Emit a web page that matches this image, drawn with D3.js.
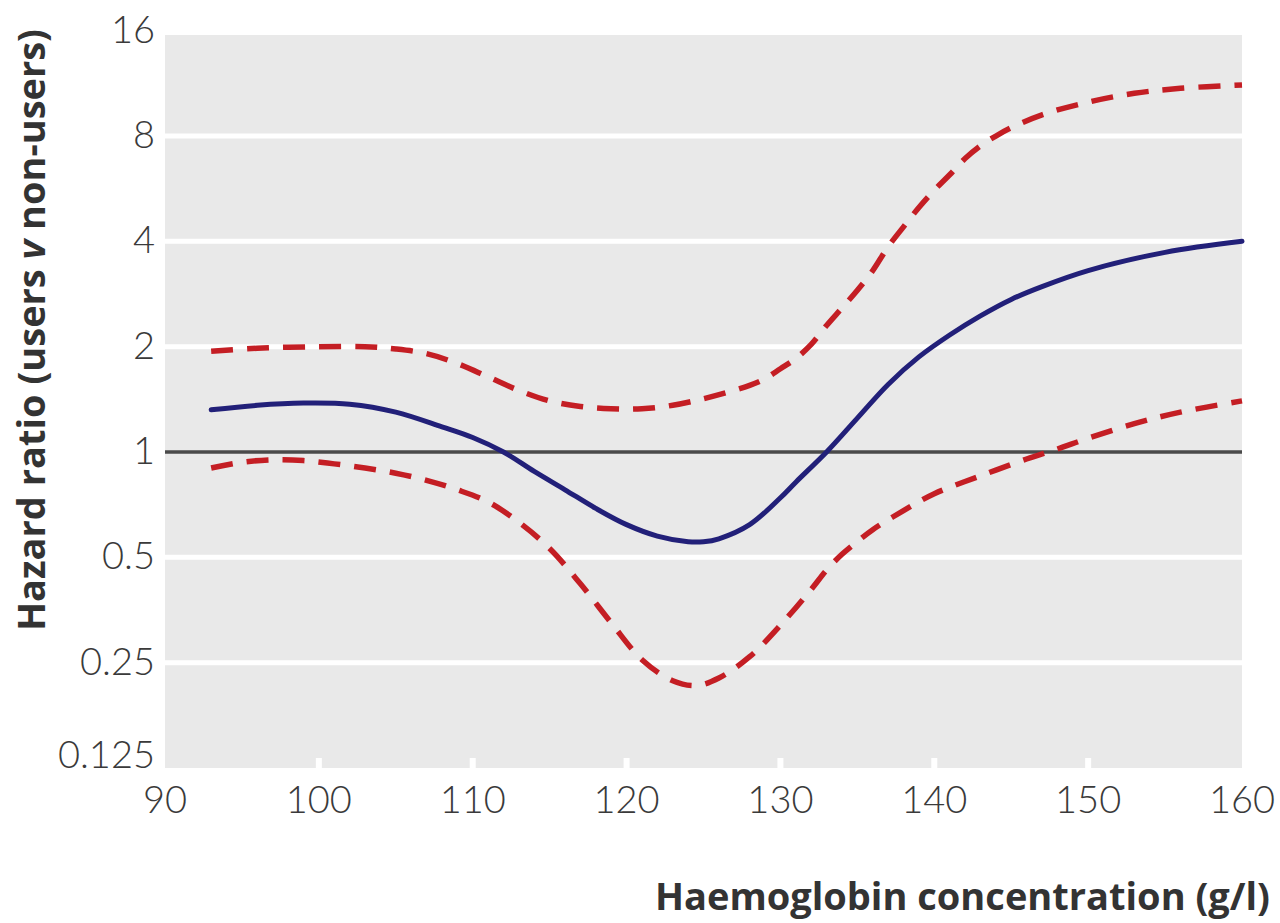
<!DOCTYPE html>
<html>
<head>
<meta charset="utf-8">
<script src="https://cdn.jsdelivr.net/npm/d3@7"></script>
<style>
  html, body { margin: 0; padding: 0; background: #fff; }
  svg { display: block; }
</style>
</head>
<body>
<svg id="chart" width="1280" height="923"></svg>
<script>
// Haemoglobin concentration (g/l) and hazard ratio point estimate
const hb = [93, 96, 99, 102, 105, 108, 110, 112, 114, 116, 118, 120, 122, 124, 125, 126, 128, 130, 131, 133, 135, 137, 139, 141, 143, 145, 147, 150, 155, 160];
const hrEstimate = [1.32, 1.36, 1.38, 1.37, 1.30, 1.18, 1.10, 1.00, 0.88, 0.78, 0.69, 0.62, 0.575, 0.554, 0.554, 0.565, 0.62, 0.74, 0.82, 1.00, 1.25, 1.56, 1.87, 2.16, 2.45, 2.73, 2.97, 3.30, 3.72, 4.00];

// Upper 95% confidence limit
const hbUpper = [93, 96, 100, 103, 105, 107, 109, 111, 113, 115, 117, 119, 121, 123, 125, 127, 128, 129, 130, 131, 132, 133, 134, 135, 136, 137, 138, 139, 140, 141, 142, 143, 144, 145, 147, 150, 153, 156, 160];
const hrUpper = [1.94, 1.98, 2.0, 2.0, 1.97, 1.91, 1.79, 1.64, 1.50, 1.40, 1.35, 1.33, 1.33, 1.36, 1.42, 1.50, 1.55, 1.62, 1.73, 1.85, 2.03, 2.30, 2.58, 2.90, 3.30, 3.86, 4.4, 5.0, 5.6, 6.2, 6.9, 7.5, 8.0, 8.45, 9.2, 10.0, 10.6, 10.95, 11.2];

// Lower 95% confidence limit
const hbLower = [93, 95, 97, 99, 101, 103, 105, 107, 109, 111, 113, 115, 117, 119, 121, 123, 124.5, 126, 128, 130, 132, 133, 134, 135, 136, 138, 140, 143, 146, 148, 150, 153, 156, 160];
const hrLower = [0.90, 0.935, 0.95, 0.945, 0.925, 0.90, 0.87, 0.83, 0.78, 0.72, 0.63, 0.53, 0.42, 0.325, 0.255, 0.222, 0.215, 0.226, 0.26, 0.32, 0.405, 0.46, 0.51, 0.555, 0.60, 0.68, 0.76, 0.855, 0.955, 1.02, 1.095, 1.205, 1.30, 1.40];

const xTicks = [90, 100, 110, 120, 130, 140, 150, 160];
const yTicks = [0.125, 0.25, 0.5, 1, 2, 4, 8, 16];
const yTickLabels = ["0.125", "0.25", "0.5", "1", "2", "4", "8", "16"];

const svg = d3.select("#chart");

const plot = { left: 165, right: 1242, top: 35, bottom: 768 };

const x = d3.scaleLinear().domain([90, 160]).range([plot.left, plot.right]);
const y = d3.scaleLog().base(2).domain([0.125, 16]).range([plot.bottom, 30.7]);

// panel background
svg.append("rect")
  .attr("x", plot.left).attr("y", plot.top)
  .attr("width", plot.right - plot.left).attr("height", plot.bottom - plot.top)
  .attr("fill", "#e9e9e9");

// white horizontal gridlines
svg.append("g").selectAll("line")
  .data(yTicks.filter(d => d !== 1 && d !== 0.125 && d !== 16))
  .join("line")
  .attr("x1", plot.left).attr("x2", plot.right)
  .attr("y1", d => y(d)).attr("y2", d => y(d))
  .attr("stroke", "#fff").attr("stroke-width", 5);

// small white tick notches along the bottom
svg.append("g").selectAll("rect")
  .data(xTicks.filter(d => d > 90 && d < 160))
  .join("rect")
  .attr("x", d => x(d) - 3).attr("y", plot.bottom - 10)
  .attr("width", 6).attr("height", 10)
  .attr("fill", "#fff");

// reference line at HR = 1
svg.append("line")
  .attr("x1", plot.left).attr("x2", plot.right)
  .attr("y1", y(1)).attr("y2", y(1))
  .attr("stroke", "#4a4a4a").attr("stroke-width", 3.5);

const line = d3.line().curve(d3.curveCatmullRom.alpha(0.5));

function path(xs, ys) {
  return line(xs.map((v, i) => [x(v), y(ys[i])]));
}

// confidence limits
[[hbUpper, hrUpper], [hbLower, hrLower]].forEach(([xs, ys]) => {
  svg.append("path")
    .attr("d", path(xs, ys))
    .attr("fill", "none").attr("stroke", "#c41e24")
    .attr("stroke-width", 5.5).attr("stroke-dasharray", "22 14");
});

// estimate
svg.append("path")
  .attr("d", path(hb, hrEstimate))
  .attr("fill", "none").attr("stroke", "#222079")
  .attr("stroke-width", 5).attr("stroke-linecap", "round");

// y tick labels
svg.append("g").selectAll("text")
  .data(yTicks)
  .join("text")
  .attr("x", 155)
  .attr("y", d => y(d) + (d === 0.125 ? 0 : 12))
  .attr("text-anchor", "end")
  .attr("font-family", "Lato, 'Open Sans', sans-serif")
  .attr("font-weight", 300)
  .attr("font-size", 38)
  .attr("fill", "#3a3a3a")
  .text((d, i) => yTickLabels[i]);

// x tick labels
svg.append("g").selectAll("text")
  .data(xTicks)
  .join("text")
  .attr("x", d => x(d))
  .attr("y", 813)
  .attr("text-anchor", "middle")
  .attr("font-family", "Lato, 'Open Sans', sans-serif")
  .attr("font-weight", 300)
  .attr("font-size", 38)
  .attr("fill", "#3a3a3a")
  .text(d => d);

// axis titles
svg.append("text")
  .attr("x", 1270).attr("y", 910)
  .attr("text-anchor", "end")
  .attr("font-family", "'Open Sans', Lato, sans-serif")
  .attr("font-weight", 700)
  .attr("font-size", 38)
  .attr("fill", "#333")
  .text("Haemoglobin concentration (g/l)");

const yTitle = svg.append("text")
  .attr("transform", "translate(45,330) rotate(-90)")
  .attr("text-anchor", "middle")
  .attr("font-family", "'Open Sans', Lato, sans-serif")
  .attr("font-weight", 700)
  .attr("font-size", 38)
  .attr("fill", "#333");
yTitle.append("tspan").text("Hazard ratio (users ");
yTitle.append("tspan").attr("font-style", "italic").text("v");
yTitle.append("tspan").text(" non-users)");
</script>
</body>
</html>
